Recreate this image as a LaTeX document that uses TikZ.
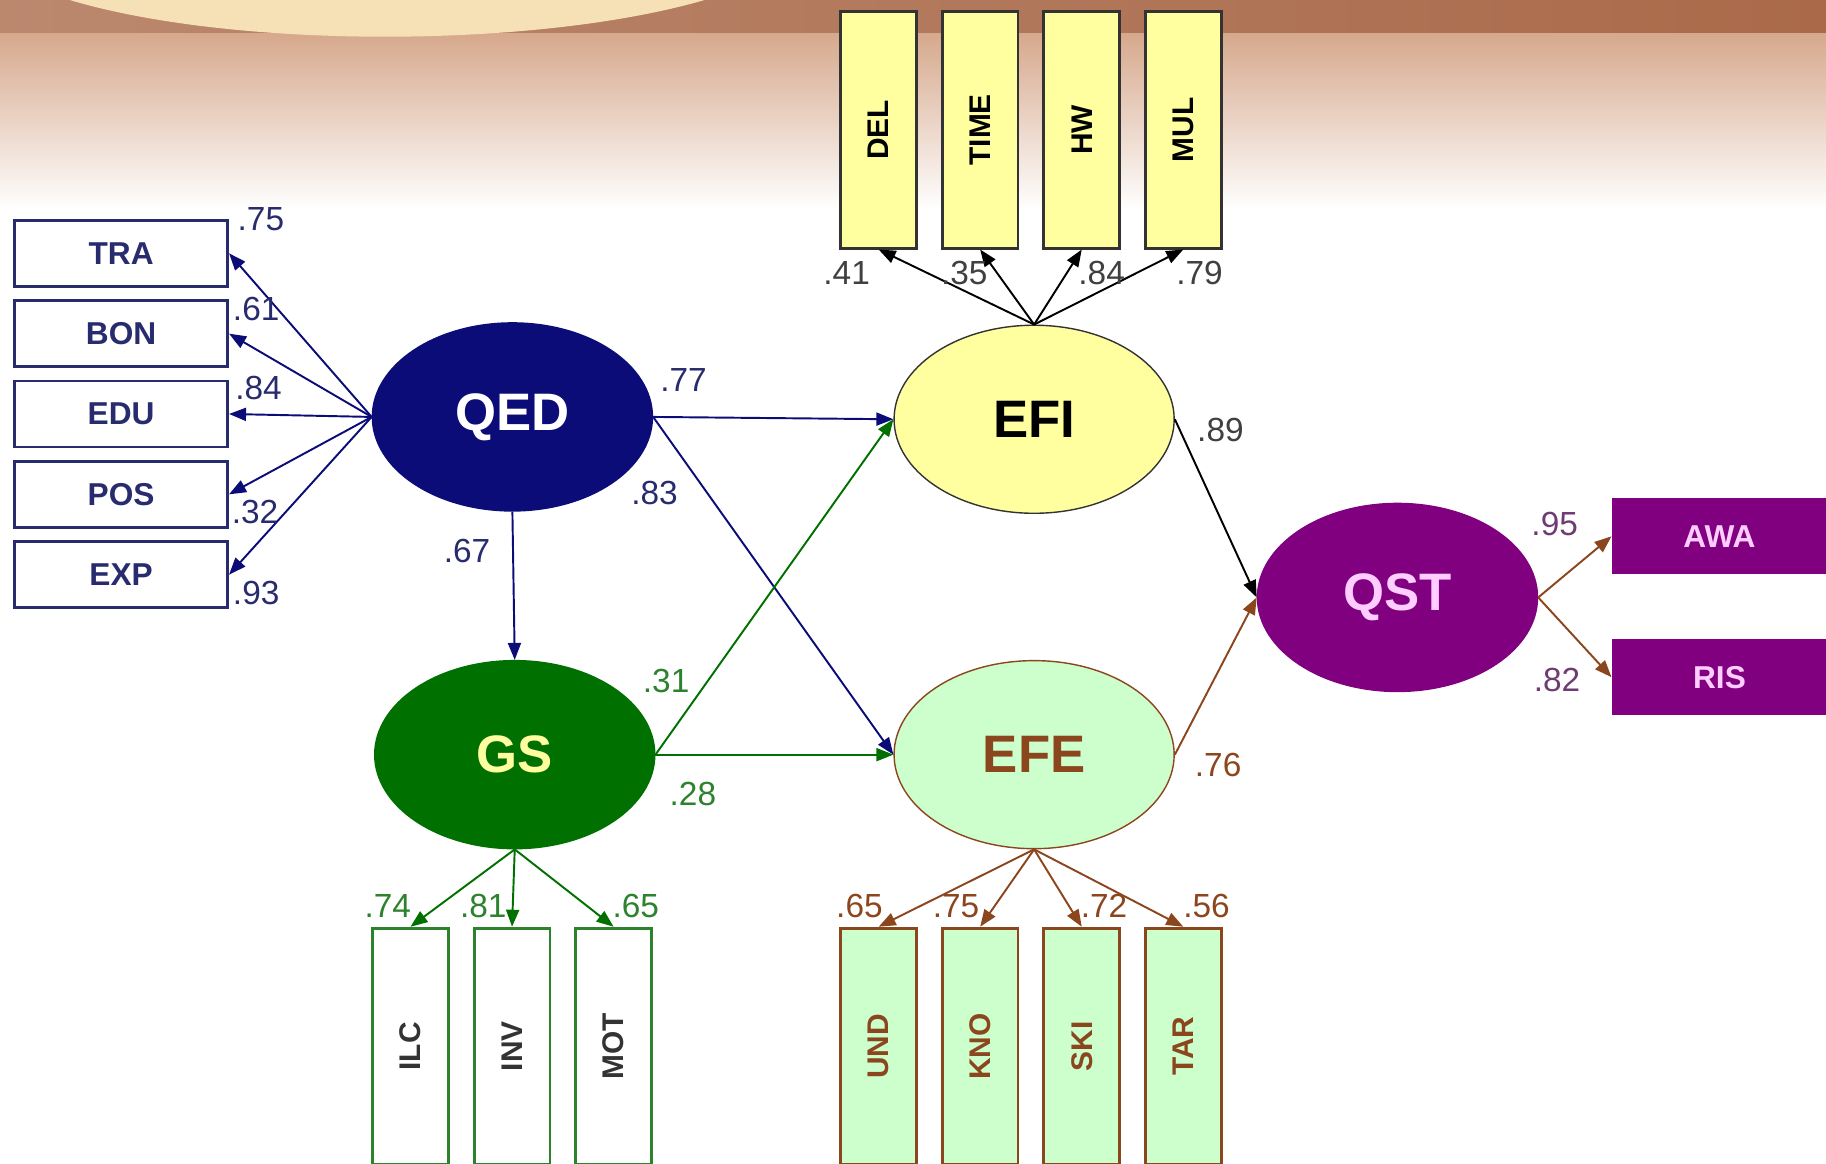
\documentclass[tikz,border=0pt]{standalone}
\usepackage{fontspec}
\setmainfont{Liberation Sans}
\usepackage{tikz}
\usetikzlibrary{arrows.meta,positioning,shapes.geometric}
\definecolor{qednavy}{RGB}{12,12,120}
\definecolor{qedtext}{RGB}{40,44,110}
\definecolor{efiyellow}{RGB}{255,255,160}
\definecolor{gsgreen}{RGB}{0,112,0}
\definecolor{gslabel}{RGB}{45,130,45}
\definecolor{efegreen}{RGB}{204,255,204}
\definecolor{efebrown}{RGB}{140,70,30}
\definecolor{qstpurple}{RGB}{128,0,128}
\definecolor{qstpink}{RGB}{255,205,255}
\definecolor{qstlabel}{RGB}{110,60,115}
\definecolor{bandbrown}{RGB}{170,106,74}
\definecolor{fadepink}{RGB}{214,168,140}
\definecolor{sandlight}{RGB}{246,224,182}

\begin{document}
\begin{tikzpicture}[
  x=0.011645cm, y=-0.011645cm,
  lat/.style={ellipse, minimum width=2.8cm, minimum height=1.88cm, inner sep=0pt,
    font=\fontsize{15}{15}\selectfont\bfseries},
  hbox/.style={rectangle, thick, minimum width=2.13cm, minimum height=0.66cm, inner sep=0pt,
    font=\fontsize{9}{9}\selectfont\bfseries},
  vbox/.style={rectangle, thick, minimum width=0.757cm, minimum height=2.364cm, inner sep=0pt,
    font=\fontsize{8.5}{9}\selectfont\bfseries},
  lbl/.style={inner sep=0pt, font=\fontsize{9.5}{10}\selectfont},
  arr/.style={-{Triangle[length=1.7mm, width=1.3mm]}, line width=0.55pt}
]
\useasboundingbox (0,0) rectangle (1568,999);
\clip (0,0) rectangle (1568,999);
% background
\shade[top color=fadepink, bottom color=white] (0,28) rectangle (1568,180);
\shade[left color=bandbrown!80, right color=bandbrown] (0,0) rectangle (1568,28);
\fill[sandlight] (60,0) .. controls (200,42) and (460,42) .. (605,0) -- cycle;

% latent variables
\node[lat, fill=qednavy, draw=qednavy, text=white] (qed) at (440,358) {QED};
\node[lat, fill=efiyellow, draw=black!80, text=black] (efi) at (888,360) {EFI};
\node[lat, fill=gsgreen, draw=gsgreen, text=efiyellow] (gs) at (442,648) {GS};
\node[lat, fill=efegreen, draw=efebrown, text=efebrown] (efe) at (888,648) {EFE};
\node[lat, fill=qstpurple, draw=qstpurple, text=qstpink] (qst) at (1200,513) {QST};

% indicators
\node[hbox, draw=qedtext, fill=white, text=qedtext] (tra) at (104,217.5) {TRA};
\node[hbox, draw=qedtext, fill=white, text=qedtext, below=0.115cm of tra] (bon) {BON};
\node[hbox, draw=qedtext, fill=white, text=qedtext, below=0.115cm of bon] (edu) {EDU};
\node[hbox, draw=qedtext, fill=white, text=qedtext, below=0.115cm of edu] (pos) {POS};
\node[hbox, draw=qedtext, fill=white, text=qedtext, below=0.115cm of pos] (exp) {EXP};

\node[vbox, draw=black!80, fill=efiyellow] (del) at (754.5,111.5) {\rotatebox{90}{DEL}};
\node[vbox, draw=black!80, fill=efiyellow, right=0.23cm of del] (time) {\rotatebox{90}{TIME}};
\node[vbox, draw=black!80, fill=efiyellow, right=0.23cm of time] (hw) {\rotatebox{90}{HW}};
\node[vbox, draw=black!80, fill=efiyellow, right=0.23cm of hw] (mul) {\rotatebox{90}{MUL}};

\node[vbox, draw=gslabel, fill=white, text=black!80] (ilc) at (352.5,898.5) {\rotatebox{90}{ILC}};
\node[vbox, draw=gslabel, fill=white, text=black!80, right=0.23cm of ilc] (inv) {\rotatebox{90}{INV}};
\node[vbox, draw=gslabel, fill=white, text=black!80, right=0.23cm of inv] (mot) {\rotatebox{90}{MOT}};

\node[vbox, draw=efebrown, fill=efegreen, text=efebrown] (und) at (754.5,898.5) {\rotatebox{90}{UND}};
\node[vbox, draw=efebrown, fill=efegreen, text=efebrown, right=0.23cm of und] (kno) {\rotatebox{90}{KNO}};
\node[vbox, draw=efebrown, fill=efegreen, text=efebrown, right=0.23cm of kno] (ski) {\rotatebox{90}{SKI}};
\node[vbox, draw=efebrown, fill=efegreen, text=efebrown, right=0.23cm of ski] (tar) {\rotatebox{90}{TAR}};

\node[hbox, draw=qstpurple, fill=qstpurple, text=qstpink, minimum height=0.73cm] (awa) at (1476.5,460.5) {AWA};
\node[hbox, draw=qstpurple, fill=qstpurple, text=qstpink, minimum height=0.73cm] (ris) at (1476.5,581.5) {RIS};

% paths
\draw[arr, qednavy] (qed.west) -- (tra.east);
\draw[arr, qednavy] (qed.west) -- (bon.east);
\draw[arr, qednavy] (qed.west) -- (edu.east);
\draw[arr, qednavy] (qed.west) -- (pos.east);
\draw[arr, qednavy] (qed.west) -- (exp.east);
\draw[arr, qednavy] (qed.east) -- (efi.west);
\draw[arr, qednavy] (qed.east) -- (efe.west);
\draw[arr, qednavy] (qed.south) -- (gs.north);
\draw[arr, gsgreen] (gs.east) -- (efi.west);
\draw[arr, gsgreen] (gs.east) -- (efe.west);
\draw[arr, gsgreen] (gs.south) -- (ilc.north);
\draw[arr, gsgreen] (gs.south) -- (inv.north);
\draw[arr, gsgreen] (gs.south) -- (mot.north);
\draw[arr, black] (efi.north) -- (del.south);
\draw[arr, black] (efi.north) -- (time.south);
\draw[arr, black] (efi.north) -- (hw.south);
\draw[arr, black] (efi.north) -- (mul.south);
\draw[arr, efebrown] (efe.south) -- (und.north);
\draw[arr, efebrown] (efe.south) -- (kno.north);
\draw[arr, efebrown] (efe.south) -- (ski.north);
\draw[arr, efebrown] (efe.south) -- (tar.north);
\draw[arr, black] (efi.east) -- (qst.west);
\draw[arr, efebrown] (efe.east) -- (qst.west);
\draw[arr, efebrown] (qst.east) -- (awa.west);
\draw[arr, efebrown] (qst.east) -- (ris.west);

% loadings
\node[lbl, text=qedtext] (ltra) at (224,188) {.75};
\node[lbl, text=qedtext] (lbon) at (220,265) {.61};
\node[lbl, text=qedtext] (ledu) at (222,333) {.84};
\node[lbl, text=qedtext] (lpos) at (219,440) {.32};
\node[lbl, text=qedtext] (lexp) at (220,509) {.93};
\node[lbl, text=qedtext] (lqefi) at (587,326) {.77};
\node[lbl, text=qedtext] (lqefe) at (562,423) {.83};
\node[lbl, text=qedtext] (lqgs) at (401,473) {.67};
\node[lbl, text=gslabel] (lgefi) at (572,585) {.31};
\node[lbl, text=gslabel] (lgefe) at (595,682) {.28};
\node[lbl, text=black!75] (lefiq) at (1048,369) {.89};
\node[lbl, text=efebrown] (lefeq) at (1046,657) {.76};
\node[lbl, text=qstlabel] (lawa) at (1335,450) {.95};
\node[lbl, text=qstlabel] (lris) at (1337,584) {.82};
\node[lbl, text=black!75] (ldel) at (727,234) {.41};
\node[lbl, text=black!75] (ltime) at (828,234) {.35};
\node[lbl, text=black!75] (lhw) at (946,234) {.84};
\node[lbl, text=black!75] (lmul) at (1030,234) {.79};
\node[lbl, text=gslabel] (lilc) at (333,778) {.74};
\node[lbl, text=gslabel] (linv) at (415,778) {.81};
\node[lbl, text=gslabel] (lmot) at (546,778) {.65};
\node[lbl, text=efebrown] (lund) at (738,778) {.65};
\node[lbl, text=efebrown] (lkno) at (821,778) {.75};
\node[lbl, text=efebrown] (lski) at (948,778) {.72};
\node[lbl, text=efebrown] (ltar) at (1036,778) {.56};
\end{tikzpicture}
\end{document}
